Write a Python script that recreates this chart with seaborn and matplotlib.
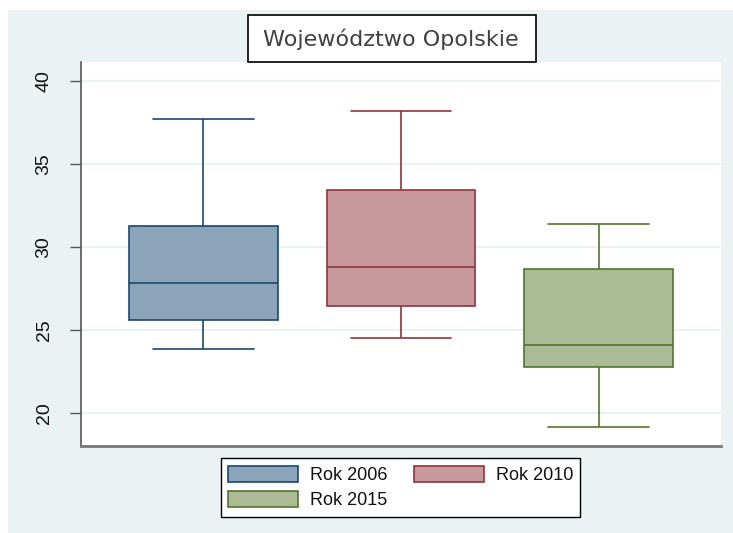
import numpy as np
import pandas as pd
import matplotlib
matplotlib.use("Agg")
import matplotlib.pyplot as plt
from matplotlib.patches import Rectangle, Patch
import seaborn as sns

# Five-number summaries per year: min, Q1, median, Q3, max
years = ["Rok 2006", "Rok 2010", "Rok 2015"]
rok_2006 = [23.86, 25.60, 27.83, 31.27, 37.71]
rok_2010 = [24.52, 26.45, 28.80, 33.43, 38.19]
rok_2015 = [19.16, 22.77, 24.10, 28.67, 31.39]
y_ticks = [20, 25, 30, 35, 40]
title = "Województwo Opolskie"

fills = ["#8CA4B9", "#C8999C", "#ABBB95"]
edges = ["#1A476F", "#90353B", "#55752F"]
panel_bg = "#EAF2F3"

df = pd.DataFrame({
    "rok": np.repeat(years, 5),
    "wartosc": rok_2006 + rok_2010 + rok_2015,
})

sns.set_theme(style="white")
plt.rcParams["font.family"] = ["Liberation Sans", "DejaVu Sans"]

W, H = 733, 533
fig = plt.figure(figsize=(W / 100, H / 100), dpi=100, facecolor="white")

# outer panel
fig.patches.append(Rectangle((8 / W, 0), 1 - 8 / W, 1 - 10 / H,
                             transform=fig.transFigure, facecolor=panel_bg,
                             edgecolor="none", zorder=-10))

ax = fig.add_axes([81 / W, (H - 446) / H, (721 - 81) / W, (446 - 62) / H])
ax.set_facecolor("white")

for rok, fc, ec in zip(years, fills, edges):
    sns.boxplot(data=df[df["rok"] == rok], x="rok", y="wartosc", order=years,
                color=fc, linecolor=ec, linewidth=1.2, width=0.75,
                whis=(0, 100), saturation=1, capwidths=0.51, ax=ax)

ax.set_xlim(-0.62, 2.62)
ax.set_ylim(18.0, 41.15)
ax.set_yticks(y_ticks)
ax.set_yticklabels([str(t) for t in y_ticks], rotation=90, va="center",
                   fontsize=14, color="#111111")
ax.set_xticks([])
ax.set_xlabel("")
ax.set_ylabel("")
ax.yaxis.grid(True, color=panel_bg, linewidth=1.5)
ax.set_axisbelow(True)
ax.tick_params(axis="y", left=True, length=8, width=1, color="#555555", pad=12.5)
for s in ["top", "right"]:
    ax.spines[s].set_visible(False)
ax.spines["left"].set_color("#555555")
ax.spines["left"].set_linewidth(1.2)
ax.spines["bottom"].set_color("#777777")
ax.spines["bottom"].set_linewidth(2)

# boxed title
fig.patches.append(Rectangle((248 / W, 1 - 62 / H), (536 - 248) / W, (62 - 15) / H,
                             transform=fig.transFigure, facecolor="white",
                             edgecolor="black", linewidth=1.2, zorder=5))
fig.text(391 / W, 1 - 39 / H, title, ha="center", va="center", fontsize=16,
         color="#404040", family=["DejaVu Sans"], zorder=6)

# legend filled row by row: 2006, 2010 / 2015
handles = [Patch(facecolor=fc, edgecolor=ec, linewidth=1.2, label=lab)
           for lab, fc, ec in zip(years, fills, edges)]
handles = [handles[0], handles[2], handles[1]]
leg = fig.legend(handles=handles, ncol=2, loc="center",
                 bbox_to_anchor=(400.5 / W, 1 - 487.5 / H), fontsize=13,
                 frameon=True, fancybox=False, edgecolor="black", framealpha=1,
                 handlelength=3.9, handleheight=1.0, handletextpad=0.65,
                 columnspacing=1.45, labelspacing=0.4, borderpad=0.4)
leg.get_frame().set_linewidth(1.0)
leg.get_frame().set_facecolor("white")
for t in leg.get_texts():
    t.set_color("#111111")

fig.savefig("out.png", dpi=100, facecolor="white")
